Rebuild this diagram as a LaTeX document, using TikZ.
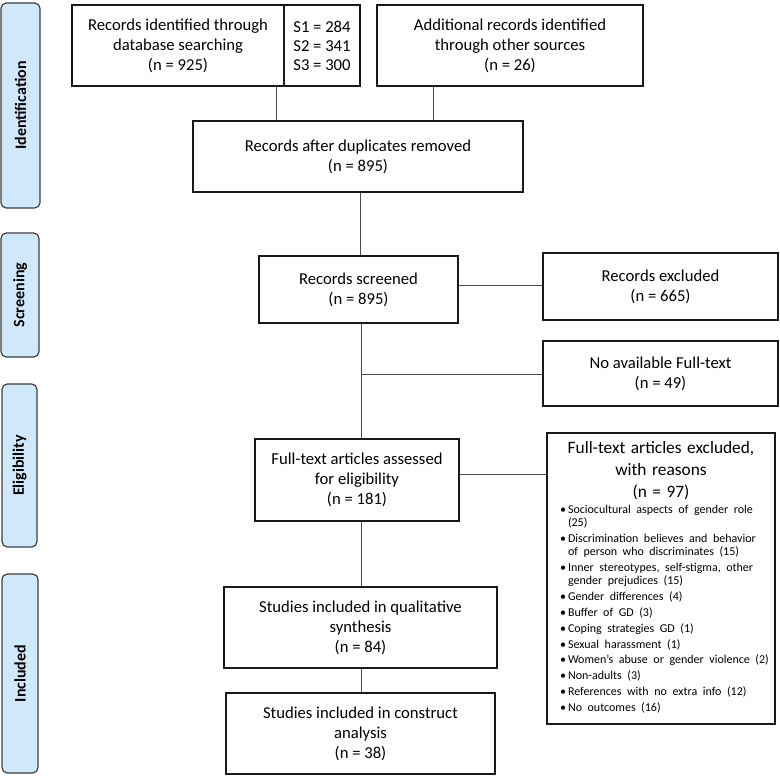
\documentclass[tikz,border=0pt]{standalone}
\usepackage{fontspec}
\setmainfont{Carlito}
\definecolor{sideblue}{HTML}{CFE9FB}
\begin{document}
\begin{tikzpicture}[x=0.75pt,y=-0.75pt,
  box/.style={draw=black!90, line width=0.8pt, align=center, inner sep=0pt, font=\fontsize{12.5}{15}\selectfont},
  side/.style={draw=black!75, fill=sideblue, rounded corners=4pt, line width=0.9pt, rotate=90, inner sep=0pt, font=\fontsize{12}{14}\selectfont\bfseries},
  conn/.style={draw=black!70, line width=0.7pt}]
\fill[white] (0,0) rectangle (780,775);
\useasboundingbox (0,0) rectangle (780,775);

% phase labels
\node[side, minimum width=153.75pt, minimum height=29.25pt] (sid) at (20.5,105.5) {Identification};
\node[side, minimum width=93pt, minimum height=28.5pt] (sscr) at (20,295) {Screening};
\node[side, minimum width=122.25pt, minimum height=26.25pt] (sel) at (19.5,465.5) {Eligibility};
\node[side, minimum width=149.25pt, minimum height=27pt] (sinc) at (20,673.5) {Included};

% boxes
\node[box, minimum width=159pt, minimum height=60.75pt] (recdb) at (178,45.5) {Records identified through\\database searching\\(n = 925)};
\node[box, minimum width=57pt, minimum height=60.75pt, align=left, font=\fontsize{12.5}{14.25}\selectfont] (recs) at (322,45.5) {S1 = 284\\S2 = 341\\S3 = 300};
\node[box, minimum width=199.5pt, minimum height=60.75pt] (add) at (510,45.5) {Additional records identified\\through other sources\\(n = 26)};
\node[box, minimum width=247.5pt, minimum height=53.25pt] (dup) at (358,156.5) {Records after duplicates removed\\(n = 895)};
\node[box, minimum width=149.25pt, minimum height=50.25pt] (scr) at (358.5,289.5) {Records screened\\(n = 895)};
\node[box, minimum width=176.25pt, minimum height=50.25pt] (exc) at (660.5,286.5) {Records excluded\\(n = 665)};
\node[box, minimum width=176.25pt, minimum height=48.75pt] (noft) at (660.5,373.5) {No available Full-text\\(n = 49)};
\node[box, minimum width=153pt, minimum height=61.5pt] (ft) at (357,480) {Full-text articles assessed\\for eligibility\\(n = 181)};
\node[box, minimum width=204.75pt, minimum height=60.75pt] (qual) at (360.5,627.5) {Studies included in qualitative\\synthesis\\(n = 84)};
\node[box, minimum width=201.75pt, minimum height=60.75pt] (con) at (360.5,733.5) {Studies included in construct\\analysis\\(n = 38)};

\node[box, minimum width=171pt, minimum height=218.25pt, text width=171pt, align=left] (fte) at (661,578.5) {%
{\centering\fontsize{13}{16.5}\selectfont Full-text articles excluded,\\with reasons\\(n = 97)\par}%
\fontsize{9}{12}\selectfont\renewcommand\arraystretch{0.8125}%
\hspace*{9.75pt}\begin{tabular}[t]{@{}l@{}l@{}}
\makebox[6pt][l]{\textbullet} & Sociocultural aspects of gender role\\
 & (25)\\[2.2pt]
\makebox[6pt][l]{\textbullet} & Discrimination believes and behavior\\
 & of person who discriminates (15)\\[2.2pt]
\makebox[6pt][l]{\textbullet} & Inner stereotypes, self-stigma, other\\
 & gender prejudices (15)\\[2.2pt]
\makebox[6pt][l]{\textbullet} & Gender differences (4)\\[2.2pt]
\makebox[6pt][l]{\textbullet} & Buffer of GD (3)\\[2.2pt]
\makebox[6pt][l]{\textbullet} & Coping strategies GD (1)\\[2.2pt]
\makebox[6pt][l]{\textbullet} & Sexual harassment (1)\\[2.2pt]
\makebox[6pt][l]{\textbullet} & Women’s abuse or gender violence (2)\\[2.2pt]
\makebox[6pt][l]{\textbullet} & Non-adults (3)\\[2.2pt]
\makebox[6pt][l]{\textbullet} & References with no extra info (12)\\[2.2pt]
\makebox[6pt][l]{\textbullet} & No outcomes (16)
\end{tabular}\par\vspace{-8.6pt}};

% connectors
\coordinate (c1) at (276,0);
\coordinate (c2) at (433,0);
\coordinate (c3) at (360,0);
\coordinate (c4) at (361,0);
\coordinate (r1) at (0,285);
\coordinate (b1) at (361,374);
\coordinate (r2) at (0,474);
\draw[conn] (recdb.south -| c1) -- (dup.north -| c1);
\draw[conn] (add.south -| c2) -- (dup.north -| c2);
\draw[conn] (dup.south -| c3) -- (scr.north -| c3);
\draw[conn] (scr.east |- r1) -- (exc.west |- r1);
\draw[conn] (scr.south -| c4) -- (ft.north -| c4);
\draw[conn] (b1) -- (noft.west |- b1);
\draw[conn] (ft.east |- r2) -- (fte.west |- r2);
\draw[conn] (ft.south -| c4) -- (qual.north -| c4);
\draw[conn] (qual.south -| c4) -- (con.north -| c4);
\end{tikzpicture}
\end{document}
